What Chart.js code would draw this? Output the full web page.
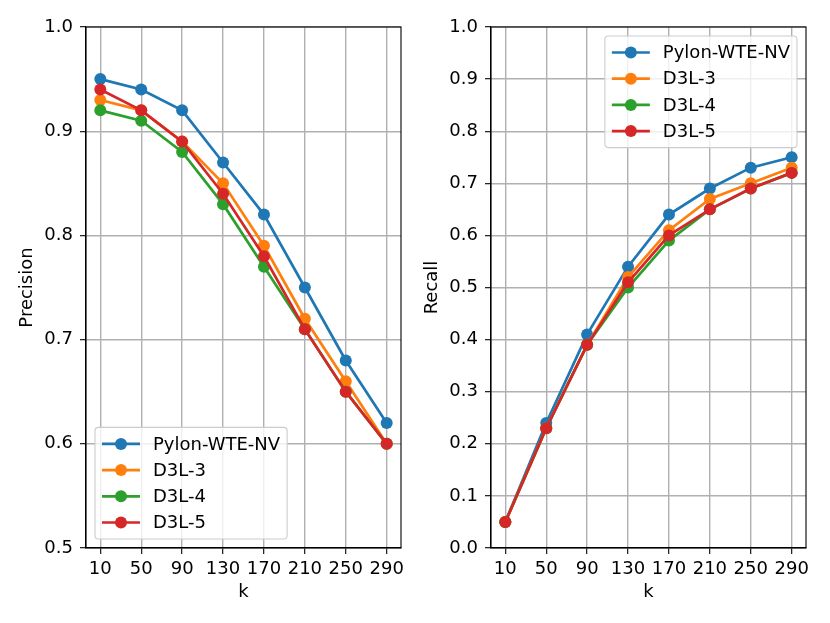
<!DOCTYPE html>
<html>
<head>
<meta charset="utf-8">
<script src="https://cdn.jsdelivr.net/npm/chart.js@4"></script>
<style>
  body { margin: 0; background: #fff; }
  #wrap { position: relative; width: 830px; height: 623px; }
  canvas { position: absolute; top: 0; }
</style>
</head>
<body>
<div id="wrap">
  <canvas id="precChart" width="415" height="623" style="left:0"></canvas>
  <canvas id="recChart" width="415" height="623" style="left:415px"></canvas>
</div>
<script>
// values
const kValues = [10, 50, 90, 130, 170, 210, 250, 290];
const seriesNames = ['Pylon-WTE-NV', 'D3L-3', 'D3L-4', 'D3L-5'];
const seriesColors = ['#1f77b4', '#ff7f0e', '#2ca02c', '#d62728'];

const precPylon = [0.95, 0.94, 0.92, 0.87, 0.82, 0.75, 0.68, 0.62];
const precD3L3  = [0.93, 0.92, 0.89, 0.85, 0.79, 0.72, 0.66, 0.60];
const precD3L4  = [0.92, 0.91, 0.88, 0.83, 0.77, 0.71, 0.65, 0.60];
const precD3L5  = [0.94, 0.92, 0.89, 0.84, 0.78, 0.71, 0.65, 0.60];

const recPylon = [0.05, 0.24, 0.41, 0.54, 0.64, 0.69, 0.73, 0.75];
const recD3L3  = [0.05, 0.23, 0.39, 0.52, 0.61, 0.67, 0.70, 0.73];
const recD3L4  = [0.05, 0.23, 0.39, 0.50, 0.59, 0.65, 0.69, 0.72];
const recD3L5  = [0.05, 0.23, 0.39, 0.51, 0.60, 0.65, 0.69, 0.72];

const FONT = 'DejaVu Sans';

// box round the plot area, like matplotlib spines
const frame = {
  id: 'frame',
  afterDatasetsDraw(chart) {
    const a = chart.chartArea, ctx = chart.ctx;
    ctx.save();
    ctx.strokeStyle = '#000';
    ctx.lineWidth = 1.1;
    ctx.strokeRect(a.left, a.top, a.right - a.left, a.bottom - a.top);
    ctx.restore();
  }
};

// legend drawn inside the plot, at a corner
const innerLegend = {
  id: 'innerLegend',
  afterDraw(chart, args, opts) {
    const ctx = chart.ctx, a = chart.chartArea;
    const sets = chart.data.datasets;
    ctx.save();
    ctx.font = '18px ' + FONT;
    const textW = Math.max(...sets.map(d => ctx.measureText(d.label).width));
    const rowH = 26.2, edge = 16.5;
    const w = 7 + 38 + 13 + textW + 7;
    const h = edge * 2 + rowH * (sets.length - 1);
    let x, y;
    if (opts.corner === 'upperright') {
      x = a.right - 9 - w; y = a.top + 9;
    } else {
      x = a.left + 9; y = a.bottom - 9 - h;
    }
    ctx.fillStyle = 'rgba(255,255,255,0.8)';
    ctx.strokeStyle = '#cccccc';
    ctx.lineWidth = 1.1;
    ctx.beginPath();
    ctx.roundRect(x, y, w, h, 3.5);
    ctx.fill();
    ctx.stroke();
    sets.forEach((d, i) => {
      const cy = y + edge + rowH * i;
      ctx.strokeStyle = d.borderColor;
      ctx.lineWidth = 2.7;
      ctx.beginPath();
      ctx.moveTo(x + 7, cy);
      ctx.lineTo(x + 45, cy);
      ctx.stroke();
      ctx.fillStyle = d.borderColor;
      ctx.beginPath();
      ctx.arc(x + 26, cy, 6, 0, Math.PI * 2);
      ctx.fill();
      ctx.fillStyle = '#000';
      ctx.textBaseline = 'middle';
      ctx.fillText(d.label, x + 58, cy + 1);
    });
    ctx.restore();
  }
};

function makeChart(id, series, yTitle, yMin, corner, axisW, padRight, titlePad) {
  const datasets = series.map((vals, i) => ({
    label: seriesNames[i],
    data: kValues.map((k, j) => ({ x: k, y: vals[j] })),
    borderColor: seriesColors[i],
    backgroundColor: seriesColors[i],
    borderWidth: 2.7,
    pointRadius: 6,
    pointHoverRadius: 6,
    pointBorderWidth: 0,
    tension: 0,
    order: series.length - i
  }));

  new Chart(document.getElementById(id), {
    type: 'line',
    data: { datasets: datasets },
    plugins: [frame, innerLegend],
    options: {
      responsive: false,
      animation: false,
      devicePixelRatio: 1,
      events: [],
      layout: { padding: { top: 27, right: padRight, left: 0, bottom: 0 } },
      plugins: {
        legend: { display: false },
        tooltip: { enabled: false },
        innerLegend: { corner: corner }
      },
      scales: {
        x: {
          type: 'linear',
          min: -4,
          max: 304,
          afterBuildTicks: s => { s.ticks = kValues.map(v => ({ value: v })); },
          afterFit: s => { s.height = 75; },
          grid: { color: '#b0b0b0', lineWidth: 1.4, tickColor: '#000', tickLength: 6, tickWidth: 1.1 },
          border: { display: true, color: '#000', width: 1.1 },
          ticks: { color: '#000', padding: 5, maxRotation: 0, autoSkip: false, font: { family: FONT, size: 18 } },
          title: { display: true, text: 'k', color: '#000', font: { family: FONT, size: 18 }, padding: { top: 0, bottom: 20 } }
        },
        y: {
          min: yMin,
          max: 1.0,
          afterFit: s => { s.width = axisW; },
          grid: { color: '#b0b0b0', lineWidth: 1.4, tickColor: '#000', tickLength: 6, tickWidth: 1.1 },
          border: { display: true, color: '#000', width: 1.1 },
          ticks: { color: '#000', stepSize: 0.1, padding: 7, font: { family: FONT, size: 18 }, callback: v => v.toFixed(1) },
          title: { display: true, text: yTitle, color: '#000', font: { family: FONT, size: 18 }, padding: { top: titlePad, bottom: 0 } }
        }
      }
    }
  });
}

makeChart('precChart', [precPylon, precD3L3, precD3L4, precD3L5], 'Precision', 0.5, 'lowerleft', 86, 14, 17);
makeChart('recChart', [recPylon, recD3L3, recD3L4, recD3L5], 'Recall', 0.0, 'upperright', 76, 24, 7);
</script>
</body>
</html>
